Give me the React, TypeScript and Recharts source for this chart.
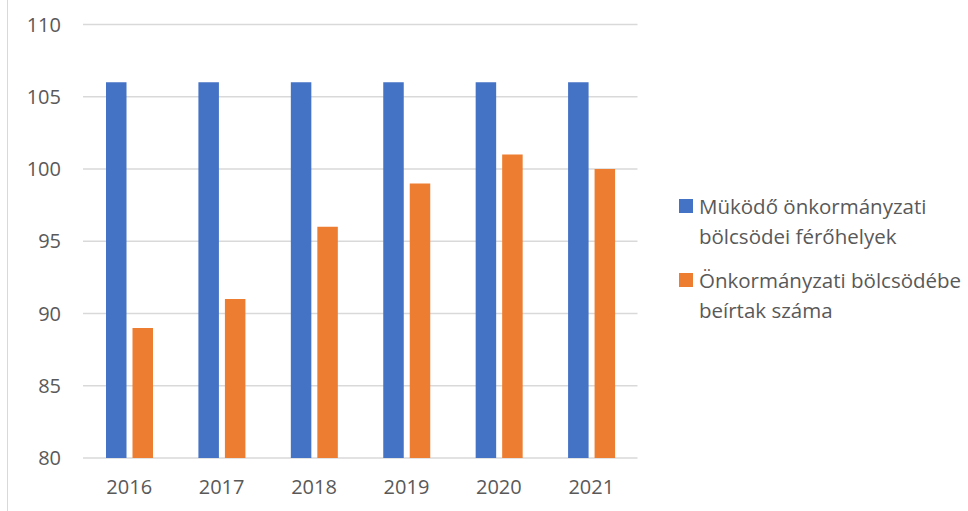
import React from "react";
import { BarChart, Bar, XAxis, YAxis, CartesianGrid } from "recharts";

const years = ["2016", "2017", "2018", "2019", "2020", "2021"];
const capacity = [106, 106, 106, 106, 106, 106];
const enrolled = [89, 91, 96, 99, 101, 100];
const yTicks = [80, 85, 90, 95, 100, 105, 110];

const seriesNames = [
  "Müködő önkormányzati\nbölcsödei férőhelyek",
  "Önkormányzati bölcsödébe\nbeírtak száma",
];
const seriesColors = ["#4472C4", "#ED7D31"];

const data = years.map((year, i) => ({
  year,
  capacity: capacity[i],
  enrolled: enrolled[i],
}));

const font = "'Open Sans', sans-serif";
const textColor = "#595959";

// legend sits to the right of the plot, outside the svg so it doesn't eat plot space
function LegendBox() {
  return (
    <div
      style={{
        position: "absolute",
        left: 679,
        top: 190.5,
        width: 285,
        fontFamily: font,
        fontSize: 20.5,
        color: textColor,
      }}
    >
      {seriesNames.map((name, i) => (
        <div
          key={i}
          style={{ display: "flex", alignItems: "flex-start", marginBottom: 14 }}
        >
          <div
            style={{
              width: 14,
              height: 14,
              background: seriesColors[i],
              marginTop: 8.5,
              marginRight: 6,
              flexShrink: 0,
            }}
          />
          <div style={{ whiteSpace: "pre-line", lineHeight: "30px" }}>{name}</div>
        </div>
      ))}
    </div>
  );
}

export default function App() {
  return (
    <div
      style={{
        position: "absolute",
        left: 0,
        top: 0,
        width: 968,
        height: 511,
        background: "#fff",
        overflow: "hidden",
      }}
    >
      <div
        style={{
          position: "absolute",
          left: 7,
          top: 0,
          width: 1,
          height: 511,
          background: "#d9d9d9",
        }}
      />
      <BarChart
        width={968}
        height={511}
        data={data}
        margin={{ top: 24.5, right: 330.5, bottom: 23, left: 0 }}
        barGap={6}
        barSize={20.5}
      >
        <CartesianGrid vertical={false} stroke="#d9d9d9" strokeWidth={1.3} />
        <XAxis
          dataKey="year"
          height={30}
          axisLine={false}
          tickLine={false}
          tickSize={0}
          tickMargin={22}
          tick={{ fill: textColor, fontSize: 20, fontFamily: font }}
        />
        <YAxis
          width={83}
          domain={[80, 110]}
          ticks={yTicks}
          axisLine={false}
          tickLine={false}
          tickSize={0}
          tickMargin={22}
          tick={{ fill: textColor, fontSize: 20, fontFamily: font }}
        />
        <Bar
          dataKey="capacity"
          name={seriesNames[0]}
          fill={seriesColors[0]}
          isAnimationActive={false}
        />
        <Bar
          dataKey="enrolled"
          name={seriesNames[1]}
          fill={seriesColors[1]}
          isAnimationActive={false}
        />
      </BarChart>
      <LegendBox />
    </div>
  );
}
